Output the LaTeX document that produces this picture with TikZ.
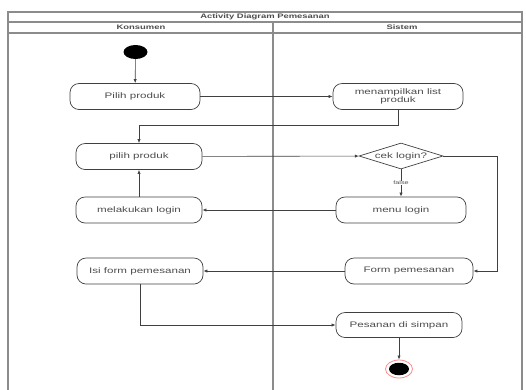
\documentclass[tikz,border=0pt]{standalone}
\usepackage{fontspec}
\newfontfamily\diafont[FakeStretch=1.45]{Liberation Sans}
\usepackage{tikz}
\usetikzlibrary{positioning,shapes.geometric,arrows.meta}

\begin{document}
\begin{tikzpicture}[x=1pt,y=-1pt,on grid,>={Latex[length=4pt,width=3.2pt]}]
      \tikzset{act/.style={draw=black!75,line width=0.7pt,rectangle,rounded corners=9pt,
          minimum width=128pt,minimum height=26pt,align=center,text=black!70,
          font=\diafont\fontsize{8}{8.6}\selectfont}}
      \tikzset{lane/.style={draw=black!45,line width=1.1pt}}
      \tikzset{hdr/.style={font=\diafont\bfseries\fontsize{6.5}{7}\selectfont,text=black!70}}
      \tikzset{flow/.style={->,draw=black!75,line width=0.6pt}}
      \useasboundingbox (0,0) rectangle (526,389);
      
      % swimlanes
      \draw[lane] (8,12) rectangle (522,395);
      \draw[lane] (8,22) -- (522,22);
      \draw[lane] (8,33) -- (522,33);
      \draw[lane] (273,22) -- (273,395);
      \node[hdr] (judul) at (265,17) {Activity Diagram Pemesanan};
      \node[hdr] (konsumen) at (141,27.5) {Konsumen};
      \node[hdr] (sistem) at (402,27.5) {Sistem};
      
      \node[ellipse,fill=black,minimum width=24pt,minimum height=14pt,inner sep=0pt] (mulai) at (135.5,52) {};
      \node[act,minimum width=130pt] (pilih) at (135,96.5) {Pilih produk};
      \node[act,minimum width=130pt] (tampil) [right = 263pt of pilih] {menampilkan list\\produk};
      \node[act,minimum width=126pt] (pilih2) at (139,156.5) {pilih produk};
      \node[diamond,draw=black!75,line width=0.7pt,minimum width=84pt,minimum height=26pt,inner sep=0pt,
          label={[act,draw=none,minimum width=0pt,minimum height=0pt,inner sep=0pt]center:cek login?}] (cek) at (401,156) {};
      \node[act,minimum width=130pt] (menu) [below = 54pt of cek] {menu login};
      \node[act,minimum width=126pt] (loginK) [below = 53.5pt of pilih2] {melakukan login};
      \node[act,minimum width=126pt] (isi) at (140,271) {Isi form pemesanan};
      \node[act,minimum width=128pt] (form) [right = 269pt of isi] {Form pemesanan};
      \node[act,minimum width=126pt,minimum height=25pt] (simpan) at (399,325) {Pesanan di simpan};
      \node[ellipse,draw=red!45,line width=0.8pt,fill=white,minimum width=27pt,minimum height=18pt,inner sep=0pt] (akhir) at (399,369) {};
      \node[ellipse,fill=black,minimum width=20pt,minimum height=12.5pt,inner sep=0pt] (akhirdot) at (399,369) {};
      
      \draw[flow] (mulai) -- (pilih);
      \draw[flow] (pilih) -- (tampil);
      \draw[flow] (tampil.south) -- ++(0,15) -| (pilih2.north);
      \draw[flow] (pilih2) -- (cek);
      \draw[flow] (cek) -- node[fill=white,inner sep=0.5pt,font=\diafont\fontsize{5}{5}\selectfont,text=black!70] {false} (menu);
      \draw[flow] (cek.east) -- ++(54,0) |- (form.east);
      \draw[flow] (menu) -- (loginK);
      \draw[flow] (loginK) -- (pilih2);
      \draw[flow] (form) -- (isi);
      \draw[flow] (isi.south) |- (simpan.west);
      \draw[flow] (simpan) -- (akhir);
    \end{tikzpicture}
\end{document}
